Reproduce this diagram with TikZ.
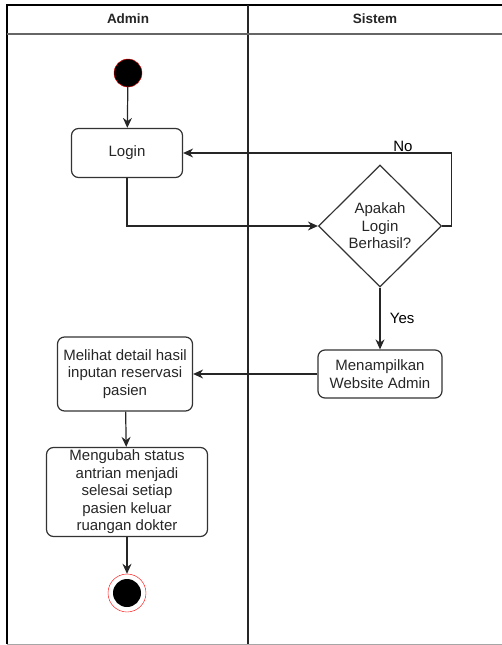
\documentclass[tikz,border=0pt]{standalone}
\usepackage{fontspec}
\setmainfont{Liberation Sans}
\usetikzlibrary{shapes.geometric,arrows.meta}
\begin{document}
\begin{tikzpicture}[x=1pt, y=-1pt,
    font=\fontsize{15}{17.5}\selectfont,
    activity/.style ={rectangle, rounded corners=7pt, draw=black!80, line width=1.2pt, align=center, inner sep=1pt, text=black!85},
    decision/.style ={diamond, draw=black!80, line width=1.2pt, align=center, inner sep=0pt, aspect=1, text=black!85},
    flow/.style ={line width=1.2pt, draw=black!85, -{Stealth[length=10pt, width=9pt]}}]
   \useasboundingbox (0,0) rectangle (502,645);
   \draw[line width=1.5pt] (7,644) -- (7,5) -- (506,5);
   \draw[line width=1.5pt, black!85] (248,5) -- (248,644);
   \draw[line width=1.3pt, black!60] (7,34) -- (506,34);
   \draw[black!35, line width=1pt] (7,644) -- (506,644);
   \node[font=\fontsize{13.5}{16}\selectfont\bfseries, text=black!85] (admin) at (128,19) {Admin};
   \node[font=\fontsize{13.5}{16}\selectfont\bfseries, text=black!85] (sistem) at (375,19) {Sistem};

   \node[circle, fill=black, draw=red, minimum size=28pt, inner sep=0pt] (start) at (128,73) {};
   \node[activity, minimum width=111pt, minimum height=49pt] (login) at (127,153) {Login};
   \node[decision, minimum width=123pt, minimum height=122pt] (cek) at (380,226) {Apakah\\Login\\Berhasil?};
   \node[activity, minimum width=124pt, minimum height=48pt] (tampil) at (380,374) {Menampilkan\\Website Admin};
   \node[activity, minimum width=135pt, minimum height=74pt] (lihat) at (125,374) {Melihat detail hasil\\inputan reservasi\\pasien};
   \node[activity, minimum width=161pt, minimum height=89pt] (ubah) at (127,492) {Mengubah status\\antrian menjadi\\selesai setiap\\pasien keluar\\ruangan dokter};
   \node[circle, draw=red, fill=white, minimum size=38pt, inner sep=0pt,
     path picture={\fill[black] (path picture bounding box.center) circle (14pt);}] (end) at (127,593) {};

   \draw[flow] (start) to (login);
   \draw[flow] (login.south) |- (cek.west);
   \draw[flow] (cek.east) -- ++(9,0) |- node[pos=0.59, above, inner sep=1pt] {No} (login.east);
   \draw[flow] (cek) to node[right, xshift=6pt] {Yes} (tampil);
   \draw[flow] (tampil) to (lihat);
   \draw[flow] (lihat) to (ubah);
   \draw[flow] (ubah) to (end);
 \end{tikzpicture}
\end{document}
